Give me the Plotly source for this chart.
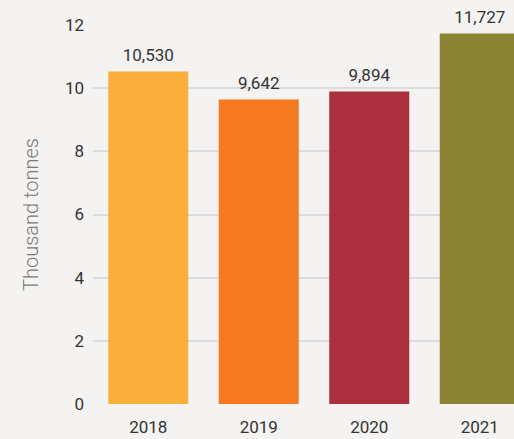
import plotly.graph_objects as go

years = ["2018", "2019", "2020", "2021"]
values = [10.530, 9.642, 9.894, 11.727]
labels = ["10,530", "9,642", "9,894", "11,727"]
colors = ["#FAAF3D", "#F47920", "#AB2F3D", "#8A8534"]
y_ticks = [0, 2, 4, 6, 8, 10, 12]

FONT = "Roboto, DejaVu Sans, sans-serif"
xs = list(range(len(years)))

fig = go.Figure()
fig.add_trace(
    go.Bar(
        x=xs,
        y=values,
        marker=dict(color=colors, line=dict(width=0)),
        width=0.724,
        cliponaxis=False,
        hoverinfo="skip",
    )
)
fig.add_trace(
    go.Scatter(
        x=xs,
        y=values,
        mode="markers+text",
        text=labels,
        textposition="top center",
        marker=dict(size=8, color="rgba(0,0,0,0)"),
        textfont=dict(family=FONT, size=17, color="#333333"),
        cliponaxis=False,
        hoverinfo="skip",
    )
)

fig.update_layout(
    width=514,
    height=439,
    margin=dict(l=93, r=0, t=25, b=35),
    paper_bgcolor="#F4F3F1",
    plot_bgcolor="#F4F3F1",
    showlegend=False,
    font=dict(family=FONT, size=16, color="#333333"),
    xaxis=dict(
        range=[-0.5, 3.31],
        tickmode="array",
        tickvals=xs,
        ticktext=years,
        showgrid=False,
        zeroline=False,
        showline=False,
        ticks="",
        ticklabelstandoff=11,
        automargin=False,
        tickfont=dict(family=FONT, size=17, color="#333333"),
    ),
    yaxis=dict(
        range=[0, 12],
        tickvals=y_ticks,
        showgrid=True,
        gridcolor="#DCDCDE",
        gridwidth=1.5,
        zeroline=False,
        showline=False,
        ticks="",
        ticklabelstandoff=8,
        automargin=False,
        tickfont=dict(family=FONT, size=17, color="#333333"),
        title=dict(
            text="Thousand tonnes",
            font=dict(family=FONT, size=20, color="#7A7A7A", weight=300),
            standoff=20,
        ),
    ),
)

fig.write_html(
    "out.html",
    config={"displayModeBar": False},
    post_script="document.body.style.margin='0px';document.body.style.background='#F4F3F1';",
)
